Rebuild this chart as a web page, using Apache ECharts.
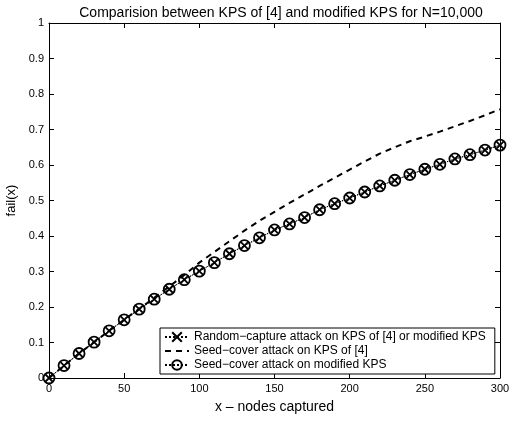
<!DOCTYPE html>
<html>
<head>
<meta charset="utf-8">
<script src="https://cdn.jsdelivr.net/npm/echarts@6/dist/echarts.min.js"></script>
<style>
  html, body { margin: 0; padding: 0; background: #fff; }
  #main { width: 510px; height: 423px; }
</style>
</head>
<body>
<div id="main"></div>
<script>
// nodes captured (x)
var nodesCaptured = [0, 10, 20, 30, 40, 50, 60, 70, 80, 90, 100, 110, 120, 130, 140, 150,
    160, 170, 180, 190, 200, 210, 220, 230, 240, 250, 260, 270, 280, 290, 300];
// random-capture attack (same for both schemes)
var randomCapture = [0, 0.035, 0.069, 0.101, 0.133, 0.164, 0.194, 0.222, 0.25, 0.277, 0.301,
    0.325, 0.35, 0.373, 0.395, 0.417, 0.434, 0.452, 0.474, 0.491, 0.507, 0.524, 0.541,
    0.557, 0.573, 0.588, 0.602, 0.617, 0.629, 0.642, 0.656];
// seed-cover attack on KPS of [4]
var seedCoverOld = [0, 0.035, 0.069, 0.101, 0.133, 0.164, 0.195, 0.226, 0.258, 0.29, 0.325,
    0.355, 0.385, 0.415, 0.443, 0.468, 0.493, 0.517, 0.541, 0.564, 0.587, 0.61, 0.632,
    0.65, 0.667, 0.68, 0.694, 0.709, 0.724, 0.74, 0.757];
// seed-cover attack on modified KPS
var seedCoverNew = [0, 0.035, 0.069, 0.101, 0.133, 0.164, 0.194, 0.222, 0.25, 0.277, 0.301,
    0.325, 0.35, 0.373, 0.395, 0.417, 0.434, 0.452, 0.474, 0.491, 0.507, 0.524, 0.541,
    0.557, 0.573, 0.588, 0.602, 0.617, 0.629, 0.642, 0.656];

var names = [
    'Random\u2212capture attack on KPS of [4] or modified KPS',
    'Seed\u2212cover attack on KPS of [4]',
    'Seed\u2212cover attack on modified KPS'
];

function pairs(ys) {
    return nodesCaptured.map(function (x, i) { return [x, ys[i]]; });
}

var font = 'Liberation Sans, Arial, sans-serif';
var crossPath = 'path://M0,0L10,10M10,0L0,10';

var boxAxis = {
    axisLine: { show: true, onZero: false, lineStyle: { color: '#000', width: 1 } },
    axisTick: { show: true, inside: true, length: 5, lineStyle: { color: '#000' } },
    splitLine: { show: false }
};

var chart = echarts.init(document.getElementById('main'));
chart.setOption({
    animation: false,
    backgroundColor: '#fff',
    textStyle: { fontFamily: font, color: '#000' },
    title: {
        text: 'Comparision between KPS of [4] and modified KPS for N=10,000',
        left: 276,
        textAlign: 'center',
        top: 1,
        textStyle: { fontFamily: font, fontSize: 14, fontWeight: 'normal', color: '#000' }
    },
    grid: { left: 49, right: 10, top: 23, bottom: 45, outerBoundsMode: 'none', containLabel: false },
    legend: {
        orient: 'vertical',
        left: 160,
        top: 328,
        itemGap: 2,
        itemWidth: 24,
        itemHeight: 12,
        padding: [3, 9, 3, 4],
        borderColor: '#000',
        borderWidth: 1,
        backgroundColor: '#fff',
        textStyle: { fontFamily: font, fontSize: 12, color: '#000' },
        data: names
    },
    xAxis: [
        Object.assign({
            type: 'value', min: 0, max: 300, interval: 50, position: 'bottom',
            name: 'x \u2013 nodes captured', nameLocation: 'middle', nameGap: 22,
            nameTextStyle: { fontFamily: font, fontSize: 14, color: '#000' },
            axisLabel: { fontFamily: font, fontSize: 11, color: '#000', margin: 5 }
        }, boxAxis),
        Object.assign({
            type: 'value', min: 0, max: 300, interval: 50, position: 'top',
            axisLabel: { show: false }
        }, boxAxis)
    ],
    yAxis: [
        Object.assign({
            type: 'value', min: 0, max: 1, interval: 0.1, position: 'left',
            name: 'fail(x)', nameLocation: 'middle', nameGap: 30,
            nameTextStyle: { fontFamily: font, fontSize: 13, color: '#000' },
            axisLabel: { fontFamily: font, fontSize: 11, color: '#000', margin: 5 }
        }, boxAxis),
        Object.assign({
            type: 'value', min: 0, max: 1, interval: 0.1, position: 'right',
            axisLabel: { show: false }
        }, boxAxis)
    ],
    series: [
        {
            name: names[2],
            type: 'line',
            data: pairs(seedCoverNew),
            symbol: 'circle',
            symbolSize: 11,
            z: 2,
            itemStyle: { color: 'rgba(0,0,0,0)', borderColor: '#000', borderWidth: 1.8 },
            lineStyle: { color: '#000', width: 1, type: 'dotted' }
        },
        {
            name: names[1],
            type: 'line',
            data: pairs(seedCoverOld),
            showSymbol: false,
            symbol: 'circle',
            z: 3,
            itemStyle: { color: 'rgba(0,0,0,0)', borderColor: 'rgba(0,0,0,0)' },
            lineStyle: { color: '#000', width: 2, type: [6, 5] }
        },
        {
            name: names[0],
            type: 'line',
            data: pairs(randomCapture),
            symbol: crossPath,
            symbolSize: 7,
            z: 4,
            itemStyle: { color: 'rgba(0,0,0,0)', borderColor: '#000', borderWidth: 1.8 },
            lineStyle: { color: '#000', width: 1, type: 'dotted' }
        }
    ]
});
</script>
</body>
</html>
